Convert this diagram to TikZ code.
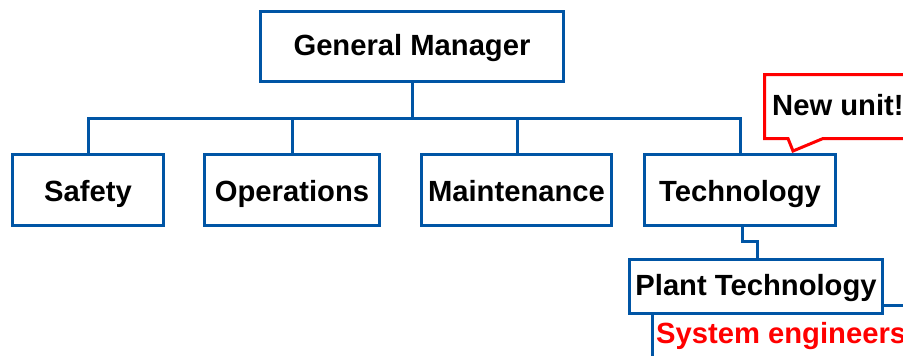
\documentclass[tikz,border=0pt]{standalone}
\usepackage{fontspec}
\setmainfont{Liberation Sans}
\definecolor{orgblue}{RGB}{0,85,165}
\definecolor{alertred}{RGB}{255,0,0}
\tikzset{
  unitbox/.style={draw=orgblue, line width=3pt, fill=white, inner sep=0pt,
    text height=20pt, text depth=0pt,
    font=\fontsize{29.2}{32}\selectfont\bfseries},
  orgline/.style={draw=orgblue, line width=3pt},
  redlabel/.style={text=alertred, inner sep=0pt, anchor=base west,
    font=\fontsize{29.2}{32}\selectfont\bfseries},
  calloutlabel/.style={inner sep=0pt, anchor=base west,
    font=\fontsize{29.2}{32}\selectfont\bfseries},
}
\begin{document}
\begin{tikzpicture}[x=1pt,y=-1pt]
\useasboundingbox (0,0) rectangle (903,356);
\clip (0,0) rectangle (903,356);
\fill[white] (0,0) rectangle (903,356);

% units
\node[unitbox, minimum width=303pt, minimum height=70pt, text height=19pt] (gm) at (412,46.5) {General Manager};
\node[unitbox, minimum width=151pt, minimum height=71pt, text height=22pt] (safety) at (88,190) {Safety};
\node[unitbox, minimum width=175pt, minimum height=71pt, text height=22pt] (ops) at (292,190) {Operations};
\node[unitbox, minimum width=190pt, minimum height=71pt, text height=22pt] (maint) at (516.5,190) {Maintenance};
\node[unitbox, minimum width=191pt, minimum height=71pt, text height=22pt] (tech) at (740,190) {Technology};
\node[unitbox, minimum width=253pt, minimum height=54pt, text height=17pt] (plant) at (756,286.5) {Plant Technology};

% reporting lines
\coordinate (bus) at (412,118);
\draw[orgline] (gm.south) -- (bus);
\draw[orgline] (safety.north) -- (safety.north |- bus) -- (tech.north |- bus) -- (tech.north);
\draw[orgline] (ops.north) -- (ops.north |- bus);
\draw[orgline] ([xshift=0.5pt]maint.north) -- ([xshift=0.5pt]maint.north |- bus);
\draw[orgline] ([xshift=2pt]tech.south) |- ([xshift=1pt]plant.north |- 0,241) -- ([xshift=1pt]plant.north);
\coordinate (plantright) at (915,305);
\draw[orgline] (plant.east |- plantright) -- (plantright);
\coordinate (plantdown) at (652,365);
\draw[orgline] (plant.south -| plantdown) -- (plantdown);

\node[redlabel] (engineers) at (656,343.5) {System engineers};

% callout
\draw[draw=alertred, line width=3pt, fill=white, line join=miter]
  (764.5,74.5) -- (925,74.5) -- (925,138.5) -- (823,138.5) -- (793,151)
  -- (788,138.5) -- (764.5,138.5) -- cycle;
\node[calloutlabel] (newunit) at (772,115) {New unit!};
\end{tikzpicture}
\end{document}
